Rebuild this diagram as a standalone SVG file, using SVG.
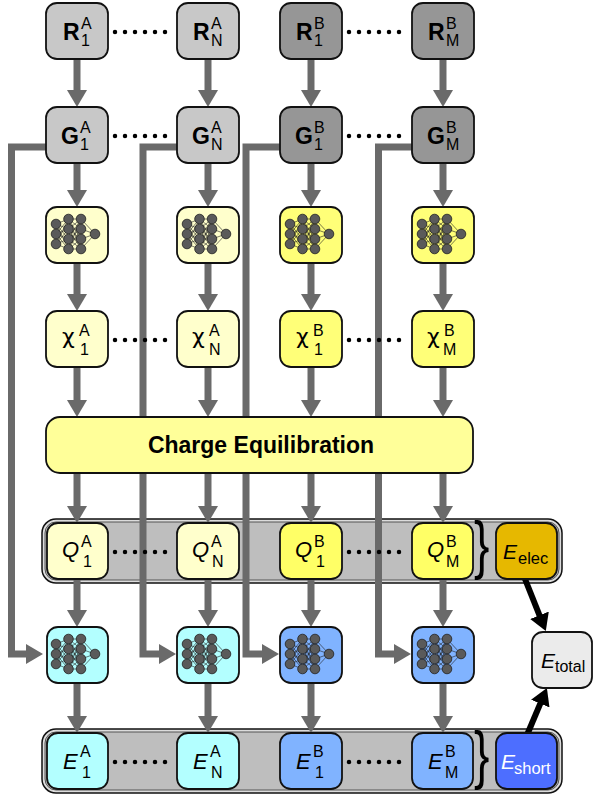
<svg xmlns="http://www.w3.org/2000/svg" xmlns:xlink="http://www.w3.org/1999/xlink" width="594" height="800" viewBox="0 0 594 800">
<style>
text{font-family:"Liberation Sans",Arial,sans-serif;fill:#000}
.nd{stroke:#111;stroke-width:1.8}
.m{font-size:23px;font-weight:bold}
.mc{font-size:22px;font-family:"DejaVu Sans",sans-serif}
.mi{font-size:22px;font-style:italic}
.s{font-size:16px}
.ga{fill:#c8c8c8}.gb{fill:#969696}
.ya{fill:#ffffcc}.yb{fill:#ffff78}
.ca{fill:#b3ffff}.cb{fill:#80b3ff}
.ar{stroke:#6a6a6a;stroke-width:7;fill:none}
.bk{stroke:#000;stroke-width:6;fill:none}
.dt{stroke:#000;stroke-width:4.5;stroke-linecap:round;stroke-dasharray:0 10;fill:none}
</style>
<defs>
<marker id="ag" markerUnits="userSpaceOnUse" viewBox="0 0 17 20" markerWidth="17" markerHeight="20" refX="7" refY="10" orient="auto"><path d="M0,0 L17,10 L0,20 z" fill="#6a6a6a"/></marker>
<marker id="ab" markerUnits="userSpaceOnUse" viewBox="0 0 17 20" markerWidth="17" markerHeight="20" refX="7" refY="10" orient="auto"><path d="M0,0 L17,10 L0,20 z" fill="#000"/></marker>
<g id="nn">
<g stroke="#222" stroke-width="0.6">
<path d="M-21,-11 L-8.5,-16 M-21,-11 L-8.5,-6 M-21,-11 L-8.5,4 M-21,-11 L-8.5,14 M-21,-1 L-8.5,-16 M-21,-1 L-8.5,-6 M-21,-1 L-8.5,4 M-21,-1 L-8.5,14 M-21,9 L-8.5,-16 M-21,9 L-8.5,-6 M-21,9 L-8.5,4 M-21,9 L-8.5,14"/>
<path d="M-8.5,-16 L4,-16 M-8.5,-16 L4,-6 M-8.5,-16 L4,4 M-8.5,-16 L4,14 M-8.5,-6 L4,-16 M-8.5,-6 L4,-6 M-8.5,-6 L4,4 M-8.5,-6 L4,14 M-8.5,4 L4,-16 M-8.5,4 L4,-6 M-8.5,4 L4,4 M-8.5,4 L4,14 M-8.5,14 L4,-16 M-8.5,14 L4,-6 M-8.5,14 L4,4 M-8.5,14 L4,14"/>
<path d="M4,-16 L18,-1 M4,-6 L18,-1 M4,4 L18,-1 M4,14 L18,-1"/>
</g>
<g fill="#5a5a5a" stroke="#222" stroke-width="0.8">
<circle cx="-21" cy="-11" r="4.8"/><circle cx="-21" cy="-1" r="4.8"/><circle cx="-21" cy="9" r="4.8"/>
<circle cx="-8.5" cy="-16" r="4.8"/><circle cx="-8.5" cy="-6" r="4.8"/><circle cx="-8.5" cy="4" r="4.8"/><circle cx="-8.5" cy="14" r="4.8"/>
<circle cx="4" cy="-16" r="4.8"/><circle cx="4" cy="-6" r="4.8"/><circle cx="4" cy="4" r="4.8"/><circle cx="4" cy="14" r="4.8"/>
<circle cx="18" cy="-1" r="4.8"/>
</g>
</g>
</defs>

<g id="bands">
<rect x="42" y="519" width="520" height="64" rx="14" fill="#dcdcdc" stroke="#111" stroke-width="1.5"/>
<rect x="45" y="522" width="514" height="58" rx="11" fill="#bebebe" stroke="#555" stroke-width="1"/>
<rect x="42" y="729" width="520" height="64" rx="14" fill="#dcdcdc" stroke="#111" stroke-width="1.5"/>
<rect x="45" y="732" width="514" height="58" rx="11" fill="#bebebe" stroke="#555" stroke-width="1"/>
<text transform="translate(474,567) scale(0.72,1)" style="font-size:64px">}</text>
<text transform="translate(474,777) scale(0.72,1)" style="font-size:64px">}</text>
</g>

<g id="connectors">
<path class="ar" d="M46,147 H11.5 V654 H33" marker-end="url(#ag)"/>
<path class="ar" d="M177,147 H143 V654 H166" marker-end="url(#ag)"/>
<path class="ar" d="M280,147 H246 V654 H269" marker-end="url(#ag)"/>
<path class="ar" d="M412,147 H378.5 V654 H401" marker-end="url(#ag)"/>
<g class="ar" marker-end="url(#ag)">
<line x1="77" y1="59" x2="77" y2="97"/><line x1="77" y1="163" x2="77" y2="197"/><line x1="77" y1="263" x2="77" y2="301"/><line x1="77" y1="367" x2="77" y2="407"/><line x1="77" y1="473" x2="77" y2="513"/><line x1="77" y1="579" x2="77" y2="617"/><line x1="77" y1="683" x2="77" y2="723"/>
<line x1="208" y1="59" x2="208" y2="97"/><line x1="208" y1="163" x2="208" y2="197"/><line x1="208" y1="263" x2="208" y2="301"/><line x1="208" y1="367" x2="208" y2="407"/><line x1="208" y1="473" x2="208" y2="513"/><line x1="208" y1="579" x2="208" y2="617"/><line x1="208" y1="683" x2="208" y2="723"/>
<line x1="311" y1="59" x2="311" y2="97"/><line x1="311" y1="163" x2="311" y2="197"/><line x1="311" y1="263" x2="311" y2="301"/><line x1="311" y1="367" x2="311" y2="407"/><line x1="311" y1="473" x2="311" y2="513"/><line x1="311" y1="579" x2="311" y2="617"/><line x1="311" y1="683" x2="311" y2="723"/>
<line x1="443" y1="59" x2="443" y2="97"/><line x1="443" y1="163" x2="443" y2="197"/><line x1="443" y1="263" x2="443" y2="301"/><line x1="443" y1="367" x2="443" y2="407"/><line x1="443" y1="473" x2="443" y2="513"/><line x1="443" y1="579" x2="443" y2="617"/><line x1="443" y1="683" x2="443" y2="723"/>
</g>
<line class="bk" x1="525" y1="579" x2="542.1" y2="621.8" marker-end="url(#ab)"/>
<line class="bk" x1="527" y1="735" x2="543" y2="697.1" marker-end="url(#ab)"/>
<line class="dt" x1="115" y1="32" x2="175" y2="32"/><line class="dt" x1="349" y1="32" x2="409" y2="32"/>
<line class="dt" x1="115" y1="136" x2="175" y2="136"/><line class="dt" x1="349" y1="136" x2="409" y2="136"/>
<line class="dt" x1="115" y1="340" x2="175" y2="340"/><line class="dt" x1="349" y1="340" x2="409" y2="340"/>
<line class="dt" x1="115" y1="552" x2="175" y2="552"/><line class="dt" x1="349" y1="552" x2="409" y2="552"/>
<line class="dt" x1="115" y1="762" x2="175" y2="762"/><line class="dt" x1="349" y1="762" x2="409" y2="762"/>
</g>

<g id="R1A"><rect class="nd ga" x="46" y="3" width="62" height="56" rx="11"/><text class="m" x="63" y="40">R</text><text class="s" x="81" y="29">A</text><text class="s" x="81" y="46">1</text></g>
<g id="RNA"><rect class="nd ga" x="177" y="3" width="62" height="56" rx="11"/><text class="m" x="193" y="40">R</text><text class="s" x="211" y="29">A</text><text class="s" x="211" y="46">N</text></g>
<g id="R1B"><rect class="nd gb" x="280" y="3" width="62" height="56" rx="11"/><text class="m" x="296" y="40">R</text><text class="s" x="314" y="29">B</text><text class="s" x="314" y="46">1</text></g>
<g id="RMB"><rect class="nd gb" x="412" y="3" width="62" height="56" rx="11"/><text class="m" x="428" y="40">R</text><text class="s" x="446" y="29">B</text><text class="s" x="446" y="46">M</text></g>

<g id="G1A"><rect class="nd ga" x="46" y="107" width="62" height="56" rx="11"/><text class="m" x="61" y="144">G</text><text class="s" x="80" y="133">A</text><text class="s" x="80" y="150">1</text></g>
<g id="GNA"><rect class="nd ga" x="177" y="107" width="62" height="56" rx="11"/><text class="m" x="192" y="144">G</text><text class="s" x="211" y="133">A</text><text class="s" x="211" y="150">N</text></g>
<g id="G1B"><rect class="nd gb" x="280" y="107" width="62" height="56" rx="11"/><text class="m" x="295" y="144">G</text><text class="s" x="314" y="133">B</text><text class="s" x="314" y="150">1</text></g>
<g id="GMB"><rect class="nd gb" x="412" y="107" width="62" height="56" rx="11"/><text class="m" x="427" y="144">G</text><text class="s" x="446" y="133">B</text><text class="s" x="446" y="150">M</text></g>

<g id="NN1A"><rect class="nd ya" x="46" y="207" width="62" height="56" rx="11"/><use xlink:href="#nn" href="#nn" x="77" y="235"/></g>
<g id="NNNA"><rect class="nd ya" x="177" y="207" width="62" height="56" rx="11"/><use xlink:href="#nn" href="#nn" x="208" y="235"/></g>
<g id="NN1B"><rect class="nd yb" x="280" y="207" width="62" height="56" rx="11"/><use xlink:href="#nn" href="#nn" x="311" y="235"/></g>
<g id="NNMB"><rect class="nd yb" x="412" y="207" width="62" height="56" rx="11"/><use xlink:href="#nn" href="#nn" x="443" y="235"/></g>

<g id="X1A"><rect class="nd ya" x="46" y="311" width="62" height="56" rx="11"/><text class="mc" x="62" y="344">χ</text><text class="s" x="79" y="336">A</text><text class="s" x="80" y="355">1</text></g>
<g id="XNA"><rect class="nd ya" x="177" y="311" width="62" height="56" rx="11"/><text class="mc" x="192" y="344">χ</text><text class="s" x="209" y="336">A</text><text class="s" x="209" y="355">N</text></g>
<g id="X1B"><rect class="nd yb" x="280" y="311" width="62" height="56" rx="11"/><text class="mc" x="296" y="344">χ</text><text class="s" x="313" y="336">B</text><text class="s" x="314" y="355">1</text></g>
<g id="XMB"><rect class="nd yb" x="412" y="311" width="62" height="56" rx="11"/><text class="mc" x="427" y="344">χ</text><text class="s" x="444" y="336">B</text><text class="s" x="443" y="355">M</text></g>

<g id="CE"><rect class="nd" x="46" y="417" width="427" height="56" rx="14" fill="#ffff99"/><text x="261" y="453" text-anchor="middle" style="font-size:23px;font-weight:bold">Charge Equilibration</text></g>

<g id="Q1A"><rect class="nd ya" x="47" y="523" width="61" height="56" rx="11"/><text class="mi" x="62" y="557">Q</text><text class="s" x="81" y="547">A</text><text class="s" x="83" y="567">1</text></g>
<g id="QNA"><rect class="nd ya" x="177" y="523" width="62" height="56" rx="11"/><text class="mi" x="192" y="557">Q</text><text class="s" x="211" y="547">A</text><text class="s" x="212" y="567">N</text></g>
<g id="Q1B"><rect class="nd" x="280" y="523" width="62" height="56" rx="11" fill="#ffff66"/><text class="mi" x="295" y="557">Q</text><text class="s" x="314" y="547">B</text><text class="s" x="316" y="567">1</text></g>
<g id="QMB"><rect class="nd" x="412" y="523" width="61" height="56" rx="11" fill="#ffff66"/><text class="mi" x="427" y="557">Q</text><text class="s" x="446" y="547">B</text><text class="s" x="446" y="567">M</text></g>
<g id="Eelec"><rect class="nd" x="496" y="523" width="61" height="56" rx="11" fill="#e6b800"/><text x="503" y="559" style="font-size:21px;font-style:italic">E</text><text x="518" y="564" style="font-size:16.5px">elec</text></g>

<g id="NN2_1A"><rect class="nd ca" x="47" y="627" width="61" height="56" rx="11"/><use xlink:href="#nn" href="#nn" x="77" y="655"/></g>
<g id="NN2_NA"><rect class="nd ca" x="177" y="627" width="62" height="56" rx="11"/><use xlink:href="#nn" href="#nn" x="208" y="655"/></g>
<g id="NN2_1B"><rect class="nd cb" x="280" y="627" width="62" height="56" rx="11"/><use xlink:href="#nn" href="#nn" x="311" y="655"/></g>
<g id="NN2_MB"><rect class="nd cb" x="412" y="627" width="62" height="56" rx="11"/><use xlink:href="#nn" href="#nn" x="443" y="655"/></g>
<g id="Etotal"><rect class="nd" x="532" y="632" width="60" height="56" rx="11" fill="#ebebeb"/><text x="541" y="668" style="font-size:21px;font-style:italic">E</text><text x="555" y="672" style="font-size:16px">total</text></g>

<g id="E1A"><rect class="nd ca" x="47" y="733" width="61" height="56" rx="11"/><text class="mi" x="63" y="769">E</text><text class="s" x="80" y="757">A</text><text class="s" x="82" y="778">1</text></g>
<g id="ENA"><rect class="nd ca" x="177" y="733" width="62" height="56" rx="11"/><text class="mi" x="193" y="769">E</text><text class="s" x="210" y="757">A</text><text class="s" x="211" y="778">N</text></g>
<g id="E1B"><rect class="nd cb" x="280" y="733" width="62" height="56" rx="11"/><text class="mi" x="296" y="769">E</text><text class="s" x="313" y="757">B</text><text class="s" x="315" y="778">1</text></g>
<g id="EMB"><rect class="nd cb" x="412" y="733" width="61" height="56" rx="11"/><text class="mi" x="428" y="769">E</text><text class="s" x="445" y="757">B</text><text class="s" x="445" y="778">M</text></g>
<g id="Eshort"><rect class="nd" x="496" y="733" width="61" height="56" rx="11" fill="#4d6eff"/><text x="501" y="769" style="font-size:21px;font-style:italic;fill:#fff">E</text><text x="514" y="774" style="font-size:16.5px;fill:#fff">short</text></g>
</svg>
